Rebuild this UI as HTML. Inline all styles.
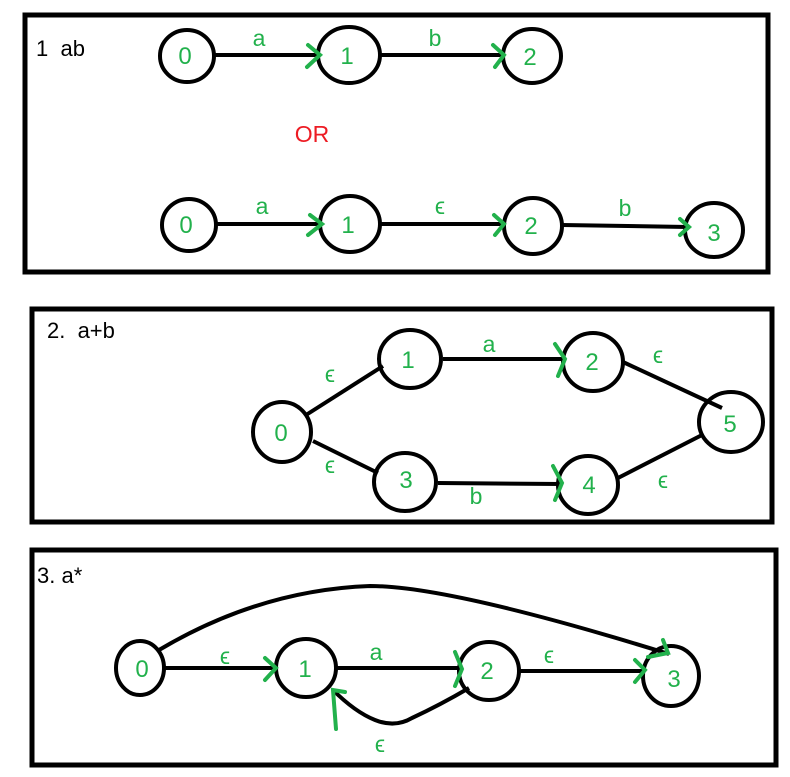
<!DOCTYPE html>
<html><head><style>body{margin:0;background:#fff}svg{display:block}</style></head><body>
<svg width="790" height="777" xmlns="http://www.w3.org/2000/svg" font-family="Liberation Sans, sans-serif">
<g fill="none" stroke="#000" stroke-width="5">
<rect x="25" y="15" width="743" height="257"/>
<rect x="32" y="309" width="740" height="213"/>
<rect x="32" y="550" width="744" height="215"/>
</g>
<g fill="none" stroke="#000" stroke-width="4">
<ellipse cx="187" cy="56" rx="27" ry="26"/><ellipse cx="349" cy="55" rx="31" ry="28"/><ellipse cx="532" cy="56" rx="29" ry="27"/>
<line x1="212" y1="55" x2="320" y2="55"/><line x1="380" y1="55" x2="504" y2="55"/>
<ellipse cx="189" cy="225" rx="27" ry="26"/><ellipse cx="350" cy="224" rx="30" ry="28"/><ellipse cx="533" cy="226" rx="29" ry="28"/><ellipse cx="714" cy="230" rx="29" ry="27"/>
<line x1="214" y1="224" x2="322" y2="224"/><line x1="380" y1="224" x2="504" y2="224"/><line x1="562" y1="225" x2="688" y2="227"/>
<ellipse cx="282" cy="432" rx="29" ry="30"/><ellipse cx="410" cy="359" rx="31" ry="29"/><ellipse cx="593" cy="362" rx="30" ry="29"/>
<ellipse cx="405" cy="482" rx="31" ry="29"/><ellipse cx="588" cy="485" rx="30" ry="29"/><ellipse cx="731" cy="422" rx="32" ry="30"/>
<line x1="306" y1="415" x2="383" y2="366"/><line x1="313" y1="441" x2="378" y2="473"/>
<line x1="443" y1="359" x2="565" y2="359"/><line x1="438" y1="483" x2="562" y2="484"/>
<line x1="623" y1="362" x2="722" y2="408"/><line x1="618" y1="478" x2="702" y2="435"/>
<ellipse cx="140" cy="668" rx="24" ry="27"/><ellipse cx="306" cy="668" rx="30" ry="29"/><ellipse cx="489" cy="671" rx="30" ry="29"/><ellipse cx="671" cy="676" rx="28" ry="30"/>
<line x1="163" y1="668" x2="278" y2="668"/>
<line x1="336" y1="668" x2="460" y2="668"/>
<line x1="519" y1="671" x2="643" y2="671"/>
<path d="M159 650 Q260 590 370 586 Q450 586 669 654"/>
<path d="M469 688 Q440 705 412 718 Q395 728 375 720 Q355 712 333 690"/>
</g>
<g fill="none" stroke="#22b14c" stroke-width="4" stroke-linecap="round">
<path d="M308 45 L320 55 L307 67"/><path d="M493 45 L504 55 L495 67"/>
<path d="M310 215 L322 224 L308 235"/><path d="M494 215 L504 224 L495 235"/><path d="M680 219 L689 227 L680 235"/>
<path d="M555 344 L565 359 L558 376"/><path d="M553 466 L562 483 L555 500"/>
<path d="M265 658 L276 668 L265 680"/><path d="M455 652 L462 669 L455 686"/><path d="M635 660 L645 670 L635 682"/>
<path d="M663 640 L668 653 L648 657"/><path d="M336 729 L333 690 L345 692"/>
</g>
<g font-size="24" fill="#22b14c" text-anchor="middle">
<text x="185" y="64">0</text><text x="347" y="64">1</text><text x="530" y="65">2</text>
<text x="186" y="233">0</text><text x="348" y="233">1</text><text x="531" y="234">2</text><text x="714" y="241">3</text>
<text x="281" y="441">0</text><text x="408" y="368">1</text><text x="592" y="370">2</text><text x="406" y="488">3</text><text x="589" y="493">4</text><text x="730" y="432">5</text>
<text x="142" y="677">0</text><text x="305" y="677">1</text><text x="487" y="679">2</text><text x="674" y="687">3</text>
</g>
<g font-size="23" fill="#22b14c" text-anchor="middle">
<text x="259" y="46">a</text><text x="435" y="46">b</text>
<text x="262" y="214">a</text><text x="440" y="214">ϵ</text><text x="625" y="216">b</text>
<text x="489" y="352">a</text><text x="476" y="504">b</text>
<text x="330" y="382">ϵ</text><text x="330" y="473">ϵ</text><text x="658" y="363">ϵ</text><text x="663" y="488">ϵ</text>
<text x="225" y="664">ϵ</text><text x="376" y="660">a</text><text x="549" y="663">ϵ</text><text x="380" y="752">ϵ</text>
</g>
<text x="312" y="142" font-size="23" fill="#ed1c24" text-anchor="middle">OR</text>
<g font-size="22" fill="#000">
<text x="36" y="56" xml:space="preserve">1  ab</text>
<text x="47" y="338" xml:space="preserve">2.  a+b</text>
<text x="37" y="583">3. a*</text>
</g>
</svg>
</body></html>
